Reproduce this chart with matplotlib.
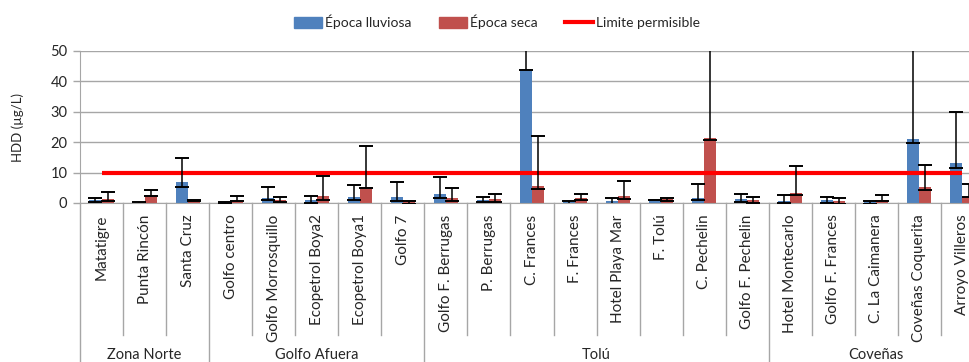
import numpy as np
import matplotlib
matplotlib.use("Agg")
import matplotlib.pyplot as plt
import matplotlib.patches as mpatches
from matplotlib.lines import Line2D
import matplotlib.transforms as mtransforms

plt.rcParams["font.family"] = ["Lato", "DejaVu Sans"]

estaciones = ["Matatigre", "Punta Rincón", "Santa Cruz",
              "Golfo centro", "Golfo Morrosquillo", "Ecopetrol Boya2", "Ecopetrol Boya1", "Golfo 7",
              "Golfo F. Berrugas", "P. Berrugas", "C. Frances", "F. Frances", "Hotel Playa Mar",
              "F. Tolú", "C. Pechelin", "Golfo F. Pechelin",
              "Hotel Montecarlo", "Golfo F. Frances", "C. La Caimanera", "Coveñas Coquerita",
              "Arroyo Villeros"]
zonas = ["Zona Norte", "Golfo Afuera", "Tolú", "Coveñas"]
zona_n = [3, 5, 8, 5]

# valores medios y extremos de las barras de error (ug/L)
lluviosa = [0.9, 0.1, 6.8, 0.2, 1.7, 0.9, 2.0, 2.0, 2.8, 0.9, 44.2, 0.4, 0.6, 1.0,
            1.7, 1.4, 0.8, 0.9, 0.5, 21.0, 13.0]
lluviosa_hi = [1.7, 0.2, 14.9, 0.4, 5.3, 2.3, 5.8, 6.8, 8.6, 2.1, 60.0, 0.5, 1.6, 1.1,
               6.3, 3.1, 2.6, 2.1, 0.7, 60.0, 29.9]
lluviosa_lo = [0.2, -0.5, 5.4, -0.2, 0.9, 0.1, 0.9, 0.8, 1.5, 0.3, 43.9, -0.5, -0.5, 0.9,
               0.9, 0.2, 0.0, 0.1, -0.2, 19.8, 11.4]

seca = [1.4, 2.6, 0.8, 0.8, 0.9, 2.3, 5.4, 0.6, 1.7, 1.4, 5.7, 1.7, 2.3, 1.4,
        21.5, 0.9, 3.4, 0.6, 1.1, 5.1, 2.3]
seca_hi = [3.6, 4.4, 1.0, 2.3, 2.0, 9.0, 18.6, 0.8, 4.9, 3.1, 22.0, 3.1, 7.2, 1.7,
           60.0, 2.0, 12.2, 1.7, 2.6, 12.5, 6.1]
seca_lo = [0.6, 2.4, 0.5, 0.6, 0.2, 1.1, 4.8, -0.4, 0.6, 0.3, 4.6, 0.9, 1.2, 0.5,
           20.6, 0.1, 2.5, -0.2, 0.7, 4.3, 2.0]

limite = 10

colors = dict(lluviosa="#4F81BD", seca="#C0504D", limite="#FF0000",
              grid="#A6A6A6", text="#262626")

W, H = 970, 362
fig = plt.figure(figsize=(W / 100, H / 100), dpi=100)
ax = fig.add_axes([80 / W, 159 / H, 904 / W, 152 / H])

x = np.arange(len(estaciones))
bw = 0.28

def yerr(vals, lo, hi):
    v = np.array(vals)
    return [v - np.array(lo), np.array(hi) - v]

ax.bar(x - bw / 2, lluviosa, width=bw, color=colors["lluviosa"], zorder=2)
ax.bar(x + bw / 2, seca, width=bw, color=colors["seca"], zorder=2)
ax.plot(x, [limite] * len(x), color=colors["limite"], lw=3, zorder=3,
        solid_capstyle="butt")
ax.errorbar(x - bw / 2, lluviosa, yerr=yerr(lluviosa, lluviosa_lo, lluviosa_hi),
            fmt="none", ecolor="black", elinewidth=1.1, capsize=5, capthick=1.4, zorder=4)
ax.errorbar(x + bw / 2, seca, yerr=yerr(seca, seca_lo, seca_hi),
            fmt="none", ecolor="black", elinewidth=1.1, capsize=5, capthick=1.4, zorder=4)

ax.set_xlim(-0.5, len(x) - 0.5)
ax.set_ylim(0, 50)
ax.set_yticks([0, 10, 20, 30, 40, 50])
ax.yaxis.grid(True, color=colors["grid"], lw=1)
ax.set_axisbelow(True)
ax.set_xticks([])
ax.tick_params(axis="y", length=5, width=1, color=colors["grid"], pad=4,
               labelsize=10.5, labelcolor=colors["text"])
for s in ["top", "right"]:
    ax.spines[s].set_visible(False)
ax.spines["left"].set_color(colors["grid"])
ax.spines["bottom"].set_color(colors["grid"])

fig.text(18 / W, 1 - 128 / H, "HDD (µg/L)", rotation=90, ha="center", va="center",
         fontsize=9.5, color=colors["text"])

# etiquetas y separadores del eje de categorias
trans = mtransforms.blended_transform_factory(ax.transData, ax.transAxes)
for i, name in enumerate(estaciones):
    ax.text(i, -0.075, name, rotation=90, ha="center", va="top", fontsize=11,
            color=colors["text"], transform=trans)

limites_grupo = np.cumsum([0] + zona_n) - 0.5
y_sep = -(159 - 27) / 152
y_bot = -159 / 152
for b in np.arange(len(x) + 1) - 0.5:
    bottom = y_bot if b in limites_grupo else y_sep
    ax.plot([b, b], [0, bottom], color=colors["grid"], lw=1, transform=trans,
            clip_on=False)

for zona, a, b in zip(zonas, limites_grupo[:-1], limites_grupo[1:]):
    ax.text((a + b) / 2, -(159 - 7) / 152, zona, ha="center", va="center",
            fontsize=10.5, color=colors["text"], transform=trans)

parts = [
    mpatches.Patch(color=colors["lluviosa"], label="Época lluviosa"),
    mpatches.Patch(color=colors["seca"], label="Época seca"),
    Line2D([], [], color=colors["limite"], lw=3, label="Limite permisible"),
]
fig.legend(handles=parts, loc="center", bbox_to_anchor=(497 / W, 1 - 22 / H), ncol=3,
           frameon=False, fontsize=10, handlelength=2.0, handleheight=0.9,
           columnspacing=2.0, handletextpad=0.2, labelcolor=colors["text"])

fig.savefig("out.png", dpi=100)
